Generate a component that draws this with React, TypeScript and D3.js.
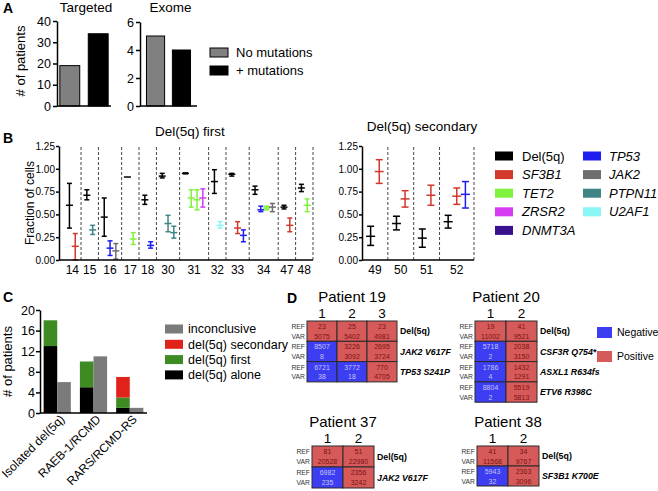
import React, { useRef, useEffect } from 'react';
import * as d3 from 'd3';

const FONT = '"Liberation Sans", Arial, sans-serif';

// ---------- Panel A ----------
const mutationStatus = ['No mutations', '+ mutations'];
const statusColors = ['#808080', '#000000'];
const targetedPatients = [19, 34];
const exomePatients = [5, 4];
const targetedTicks = [0, 10, 20, 30, 40];
const exomeTicks = [0, 2, 4, 6];

// ---------- Panel B ----------
const genes = ['Del(5q)', 'SF3B1', 'TET2', 'ZRSR2', 'DNMT3A', 'TP53', 'JAK2', 'PTPN11', 'U2AF1'];
const geneColors = ['#000000', '#d2382b', '#7ef23c', '#d63cf2', '#3a0f8c', '#1e1ef0', '#6e6e6e', '#3f8585', '#8af6f6'];
const fractionTicks = [0, 0.25, 0.5, 0.75, 1.0, 1.25];

const firstPatients = ['14', '15', '16', '17', '18', '30', '31', '32', '33', '34', '47', '48'];
// patient, gene, mean, low, high
const firstFractions: [string, string, number, number, number][] = [
  ['14', 'Del(5q)', 0.60, 0.35, 0.84],
  ['14', 'SF3B1', 0.15, 0.0, 0.29],
  ['15', 'Del(5q)', 0.71, 0.66, 0.77],
  ['15', 'PTPN11', 0.33, 0.28, 0.38],
  ['16', 'Del(5q)', 0.47, 0.26, 0.68],
  ['16', 'TP53', 0.13, 0.05, 0.21],
  ['16', 'JAK2', 0.10, 0.01, 0.18],
  ['17', 'Del(5q)', 0.91, 0.91, 0.91],
  ['17', 'TET2', 0.23, 0.17, 0.30],
  ['18', 'Del(5q)', 0.66, 0.61, 0.71],
  ['18', 'TP53', 0.16, 0.13, 0.20],
  ['30', 'Del(5q)', 0.92, 0.90, 0.95],
  ['30', 'PTPN11', 0.40, 0.31, 0.49],
  ['30', 'PTPN11', 0.30, 0.24, 0.37],
  ['31', 'Del(5q)', 0.95, 0.945, 0.955],
  ['31', 'TET2', 0.68, 0.58, 0.77],
  ['31', 'TET2', 0.66, 0.55, 0.77],
  ['31', 'ZRSR2', 0.68, 0.58, 0.78],
  ['32', 'Del(5q)', 0.86, 0.73, 0.99],
  ['32', 'U2AF1', 0.38, 0.35, 0.42],
  ['33', 'Del(5q)', 0.94, 0.92, 0.95],
  ['33', 'SF3B1', 0.35, 0.29, 0.42],
  ['33', 'TP53', 0.27, 0.20, 0.33],
  ['34', 'Del(5q)', 0.77, 0.72, 0.81],
  ['34', 'TP53', 0.55, 0.53, 0.59],
  ['34', 'TET2', 0.57, 0.55, 0.59],
  ['34', 'JAK2', 0.58, 0.53, 0.62],
  ['47', 'Del(5q)', 0.58, 0.56, 0.60],
  ['47', 'SF3B1', 0.38, 0.31, 0.46],
  ['48', 'Del(5q)', 0.79, 0.75, 0.83],
  ['48', 'TET2', 0.60, 0.53, 0.67],
];

const secondaryPatients = ['49', '50', '51', '52'];
const secondaryFractions: [string, string, number, number, number][] = [
  ['49', 'Del(5q)', 0.26, 0.16, 0.37],
  ['49', 'SF3B1', 0.97, 0.84, 1.10],
  ['50', 'Del(5q)', 0.40, 0.33, 0.48],
  ['50', 'SF3B1', 0.67, 0.58, 0.76],
  ['51', 'Del(5q)', 0.24, 0.14, 0.34],
  ['51', 'SF3B1', 0.71, 0.60, 0.82],
  ['52', 'Del(5q)', 0.42, 0.35, 0.49],
  ['52', 'SF3B1', 0.70, 0.61, 0.79],
  ['52', 'TP53', 0.72, 0.57, 0.86],
];

// ---------- Panel C ----------
const subtypes = ['Isolated del(5q)', 'RAEB-1/RCMD', 'RARS/RCMD-RS'];
const aloneCounts = [13, 5, 1];
const firstCounts = [5, 5, 2];
const secondaryCounts = [0, 0, 4];
const inconclusiveCounts = [6, 11, 1];
const orderLabels = ['inconclusive', 'del(5q) secondary', 'del(5q) first', 'del(5q) alone'];
const orderColors = ['#7b7b7b', '#e0221a', '#3d8b22', '#000000'];
const countTicks = [0, 4, 8, 12, 16, 20];

// ---------- Panel D ----------
const p19Targets = ['Del(5q)', 'JAK2 V617F', 'TP53 S241P'];
const p19Ref = [[23, 25, 23], [8507, 3226, 2695], [6721, 3772, 770]];
const p19Var = [[5075, 5402, 4981], [8, 3092, 3724], [38, 18, 4705]];
const p19Pos = [[1, 1, 1], [0, 1, 1], [0, 0, 1]];

const p20Targets = ['Del(5q)', 'CSF3R Q754*', 'ASXL1 R634fs', 'ETV6 R398C'];
const p20Ref = [[19, 41], [5718, 2038], [1786, 1432], [8804, 5519]];
const p20Var = [[11002, 9521], [2, 3150], [4, 1291], [2, 5813]];
const p20Pos = [[1, 1], [0, 1], [0, 1], [0, 1]];

const p37Targets = ['Del(5q)', 'JAK2 V617F'];
const p37Ref = [[81, 51], [6982, 2356]];
const p37Var = [[20528, 22980], [235, 3242]];
const p37Pos = [[1, 1], [0, 1]];

const p38Targets = ['Del(5q)', 'SF3B1 K700E'];
const p38Ref = [[41, 34], [5943, 2363]];
const p38Var = [[11568, 9767], [32, 3096]];
const p38Pos = [[1, 1], [0, 1]];

const callLabels = ['Negative', 'Positive'];
const callColors = ['#3d3df2', '#d75a5a'];
const callText = ['#c4c4f4', '#7a1414'];

const colorOf = (g: string) => geneColors[genes.indexOf(g)];

// left axis drawn by d3 into a <g>
const AxisLeft = ({ x, scale, ticks, fmt, size, tick = 3, padding = 2 }: any) => {
  const ref = useRef<SVGGElement>(null);
  useEffect(() => {
    if (!ref.current) return;
    const g = d3.select(ref.current);
    g.selectAll('*').remove();
    g.call(d3.axisLeft(scale).tickValues(ticks).tickFormat(fmt).tickSize(tick).tickSizeOuter(0).tickPadding(padding));
    g.attr('font-family', FONT).attr('font-size', size);
    g.selectAll('path, line').attr('stroke', '#000').attr('stroke-width', 1.5);
    g.selectAll('text').attr('fill', '#000');
  }, [x, scale, ticks, fmt, size, tick, padding]);
  return <g ref={ref} transform={`translate(${x},0)`} />;
};

const barPanel = (title: string, values: number[], ticks: number[], x0: number, x1: number, top: number, inner: number, outer: number) => {
  const y = d3.scaleLinear().domain([0, ticks[ticks.length - 1]]).range([106, top]);
  const x = d3.scaleBand().domain(mutationStatus).range([x0, x1]).paddingInner(inner).paddingOuter(outer);
  return (
    <g>
      <text x={(x0 + x1) / 2 + 2} y={12} textAnchor="middle" fontSize={13.5}>{title}</text>
      {values.map((v, i) => (
        <rect key={i} x={x(mutationStatus[i])} y={y(v)} width={x.bandwidth()} height={y(0) - y(v)}
          fill={statusColors[i]} stroke="#000" strokeWidth={1} />
      ))}
      <line x1={x0} x2={x1} y1={y(0)} y2={y(0)} stroke="#000" strokeWidth={1.5} />
      <AxisLeft x={x0} scale={y} ticks={ticks} fmt={(t: number) => String(t)} size={12.5} tick={4} padding={2} />
    </g>
  );
};

const errorBar = (key: number, x: number, y: d3.ScaleLinear<number, number>, mean: number, lo: number, hi: number,
  color: string, cap: number, mid: number) => (
  <g key={key} stroke={color} strokeWidth={1.5}>
    {hi > lo && <line x1={x} x2={x} y1={y(lo)} y2={y(hi)} />}
    {hi > lo && <line x1={x - cap} x2={x + cap} y1={y(lo)} y2={y(lo)} />}
    {hi > lo && <line x1={x - cap} x2={x + cap} y1={y(hi)} y2={y(hi)} />}
    <line x1={x - mid} x2={x + mid} y1={y(mean)} y2={y(mean)} />
  </g>
);

const fractionPanel = (patients: string[], rows: [string, string, number, number, number][], x0: number, x1: number,
  pad: number, title: string, titleY: number, cap: number, mid: number) => {
  const y = d3.scaleLinear().domain([0, 1.25]).range([260, 146]);
  const counts = patients.map((p) => rows.filter((r) => r[0] === p).length);
  const starts: number[] = [];
  let acc = pad;
  counts.forEach((n) => { starts.push(acc); acc += n + 1; });
  const u = d3.scaleLinear().domain([0, acc]).range([x0, x1]);
  return (
    <g>
      <text x={(x0 + x1) / 2 + 4} y={titleY} textAnchor="middle" fontSize={13.5}>{title}</text>
      {patients.map((p, i) => (
        <g key={p}>
          <line x1={u(starts[i] + counts[i] + 1)} x2={u(starts[i] + counts[i] + 1)} y1={y(0)} y2={y(1.25)}
            stroke="#333" strokeWidth={0.9} strokeDasharray="3,2" />
          <text x={u(starts[i] + (counts[i] + 1) / 2)} y={274} textAnchor="middle" fontSize={12}>{p}</text>
          {rows.filter((r) => r[0] === p).map((r, k) =>
            errorBar(k, u(starts[i] + k + 1), y, r[2], r[3], r[4], colorOf(r[1]), cap, mid))}
        </g>
      ))}
      <line x1={x0} x2={x1} y1={y(0)} y2={y(0)} stroke="#000" strokeWidth={1.5} />
      <AxisLeft x={x0} scale={y} ticks={fractionTicks} fmt={d3.format('.2f')} size={10} tick={3} padding={1} />
    </g>
  );
};

const grid = (left: number, top: number, colW: number, rowH: number, title: string, targets: string[],
  refs: number[][], vars: number[][], pos: number[][]) => {
  const nCols = refs[0].length;
  const cols = d3.range(nCols).map((i) => String(i + 1));
  const x = d3.scaleBand().domain(cols).range([left, left + colW * nCols]);
  const y = d3.scaleBand().domain(targets).range([top, top + rowH * targets.length]);
  return (
    <g>
      <text x={left + (colW * nCols) / 2} y={top - 19} textAnchor="middle" fontSize={15}>{title}</text>
      {cols.map((c) => (
        <text key={c} x={(x(c) as number) + colW / 2} y={top - 3} textAnchor="middle" fontSize={13.5}>{c}</text>
      ))}
      {targets.map((t, r) => {
        const ty = y(t) as number;
        return (
          <g key={t}>
            <text x={left - 2} y={ty + rowH * 0.28} dy="0.35em" textAnchor="end" fontSize={6.8} fill="#333">REF</text>
            <text x={left - 2} y={ty + rowH * 0.76} dy="0.35em" textAnchor="end" fontSize={6.8} fill="#333">VAR</text>
            {cols.map((c, ci) => (
              <g key={c}>
                <rect x={x(c)} y={ty} width={colW} height={rowH} fill={callColors[pos[r][ci]]} stroke="#2a2a2a" strokeWidth={1} />
                <text x={(x(c) as number) + colW / 2} y={ty + rowH * 0.27} dy="0.35em" textAnchor="middle"
                  fontSize={7} fill={callText[pos[r][ci]]}>{refs[r][ci]}</text>
                <text x={(x(c) as number) + colW / 2} y={ty + rowH * 0.76} dy="0.35em" textAnchor="middle"
                  fontSize={7} fill={callText[pos[r][ci]]}>{vars[r][ci]}</text>
              </g>
            ))}
            <text x={left + colW * nCols + 3} y={ty + rowH / 2} dy="0.35em" fontSize={8.8} fontWeight="bold"
              fontStyle={r === 0 ? 'normal' : 'italic'}>{t}</text>
          </g>
        );
      })}
    </g>
  );
};

export default function App() {
  // Panel C scales
  const cy = d3.scaleLinear().domain([0, 20]).range([413, 310]);
  const cx = d3.scaleBand().domain(subtypes).range([40, 147]).paddingInner(0.25).paddingOuter(0.1);
  const table = subtypes.map((s, i) => ({
    subtype: s, alone: aloneCounts[i], first: firstCounts[i], secondary: secondaryCounts[i],
  }));
  const stacked = d3.stack<any>().keys(['alone', 'first', 'secondary'])(table);
  const stackColors = [orderColors[3], orderColors[2], orderColors[1]];
  const half = cx.bandwidth() / 2;

  return (
    <svg width={658} height={491} style={{ position: 'absolute', left: 0, top: 0, background: '#fff' }}
      fontFamily={FONT}>
      {/* Panel A */}
      <text x={3} y={13} fontSize={14} fontWeight="bold">A</text>
      <text transform="translate(25,61) rotate(-90)" textAnchor="middle" fontSize={13}># of patients</text>
      {barPanel('Targeted', targetedPatients, targetedTicks, 57, 111, 21, 0.3, 0.1)}
      {barPanel('Exome', exomePatients, exomeTicks, 140, 197, 22, 0.3, 0.25)}
      {mutationStatus.map((m, i) => (
        <g key={m}>
          <rect x={210} y={48 + i * 18} width={18} height={9} fill={statusColors[i]} stroke="#000" strokeWidth={1} />
          <text x={236} y={52.5 + i * 18} dy="0.35em" fontSize={13}>{m}</text>
        </g>
      ))}

      {/* Panel B */}
      <text x={3} y={143} fontSize={14} fontWeight="bold">B</text>
      <text transform="translate(34,203) rotate(-90)" textAnchor="middle" fontSize={12}>Fraction of cells</text>
      {fractionPanel(firstPatients, firstFractions, 59, 313, 0.8, 'Del(5q) first', 136, 2.5, 3.5)}
      {fractionPanel(secondaryPatients, secondaryFractions, 362, 474, 0, 'Del(5q) secondary', 131, 3.5, 4.5)}
      {genes.map((g, i) => {
        const col = i < 5 ? 0 : 1;
        const row = i < 5 ? i : i - 5;
        const cyy = 156 + row * 18.6;
        return (
          <g key={g}>
            <rect x={col ? 583 : 495} y={cyy - 4.5} width={18} height={9} fill={geneColors[i]} />
            <text x={col ? 609 : 522} y={cyy} dy="0.35em" fontSize={13} fontStyle={i === 0 ? 'normal' : 'italic'}>{g}</text>
          </g>
        );
      })}

      {/* Panel C */}
      <text x={3} y={302} fontSize={14} fontWeight="bold">C</text>
      <text transform={`translate(12,${(cy(0) + cy(20)) / 2}) rotate(-90)`} textAnchor="middle" fontSize={13}># of patients</text>
      {stacked.map((layer, li) => (
        <g key={layer.key} fill={stackColors[li]}>
          {layer.map((d, i) => (d[1] > d[0] ? (
            <rect key={i} x={cx(subtypes[i])} y={cy(d[1])} width={half} height={cy(d[0]) - cy(d[1])} />
          ) : null))}
        </g>
      ))}
      {inconclusiveCounts.map((v, i) => (
        <rect key={i} x={(cx(subtypes[i]) as number) + half} y={cy(v)} width={half} height={cy(0) - cy(v)}
          fill={orderColors[0]} />
      ))}
      <line x1={40} x2={147} y1={cy(0)} y2={cy(0)} stroke="#000" strokeWidth={1.5} />
      <AxisLeft x={40} scale={cy} ticks={countTicks} fmt={(t: number) => String(t)} size={12.5} tick={4} padding={1} />
      {subtypes.map((s) => (
        <text key={s} transform={`translate(${(cx(s) as number) + half + 8},${cy(0) + 7}) rotate(-45)`}
          textAnchor="end" fontSize={12}>{s}</text>
      ))}
      {orderLabels.map((l, i) => (
        <g key={l}>
          <rect x={165} y={329 + i * 15.3 - 4.5} width={18} height={9} fill={orderColors[i]} />
          <text x={188} y={329 + i * 15.3} dy="0.35em" fontSize={12.5}>{l}</text>
        </g>
      ))}

      {/* Panel D */}
      <text x={287} y={303} fontSize={14} fontWeight="bold">D</text>
      {grid(307, 321, 30, 20.3, 'Patient 19', p19Targets, p19Ref, p19Var, p19Pos)}
      {grid(475, 321, 31, 20.3, 'Patient 20', p20Targets, p20Ref, p20Var, p20Pos)}
      {grid(312, 446, 31, 21, 'Patient 37', p37Targets, p37Ref, p37Var, p37Pos)}
      {grid(477, 446, 31, 20, 'Patient 38', p38Targets, p38Ref, p38Var, p38Pos)}
      {callLabels.map((c, i) => (
        <g key={c}>
          <rect x={597} y={327 + i * 24} width={15} height={11} fill={callColors[i]} />
          <text x={617} y={332.5 + i * 24} dy="0.35em" fontSize={10.5}>{c}</text>
        </g>
      ))}
    </svg>
  );
}
